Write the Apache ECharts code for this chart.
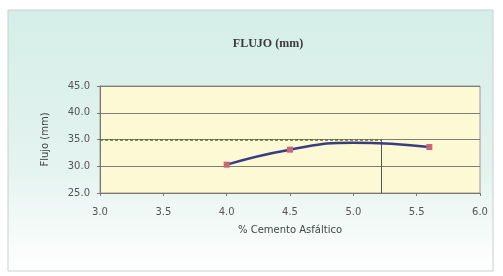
<!DOCTYPE html>
<html>
<head>
<meta charset="utf-8">
<script src="https://cdn.jsdelivr.net/npm/echarts@6/dist/echarts.min.js"></script>
<style>
html, body { margin: 0; padding: 0; background: #fff; }
#chart { width: 503px; height: 276px; }
</style>
</head>
<body>
<div id="chart"></div>
<script>
// % cemento asfáltico vs flujo (mm)
const cemento = [4.0, 4.5, 5.0, 5.6]
const flujo = [30.3, 33.1, 34.4, 33.6]
// puntos con marcador visible en la gráfica original
const conMarcador = [true, true, false, true]
// valor de referencia y % óptimo
const flujoRef = 35.0
const cementoOpt = 5.22

const myChart = echarts.init(document.getElementById('chart'))

const axisText = { fontFamily: 'DejaVu Sans', fontSize: 10, color: '#555' }

const option = {
  animation: false,
  backgroundColor: '#fff',
  graphic: [
    {
      type: 'rect',
      z: -10,
      shape: { x: 8, y: 10, width: 485, height: 261 },
      style: {
        fill: new echarts.graphic.LinearGradient(0, 0, 0, 1, [
          { offset: 0, color: '#d5eee8' },
          { offset: 0.6, color: '#e4f3ef' },
          { offset: 1, color: '#ffffff' }
        ]),
        stroke: '#c8d0cc',
        lineWidth: 1
      }
    }
  ],
  title: {
    text: 'FLUJO (mm)',
    left: 263,
    top: 33,
    textAlign: 'center',
    textStyle: { fontFamily: 'Liberation Serif', fontSize: 12, fontWeight: 'bold', color: '#3a3a3a' }
  },
  grid: {
    left: 100,
    right: 23,
    top: 86,
    bottom: 83,
    show: true,
    backgroundColor: '#fcf9d4',
    borderColor: '#9a9a90',
    borderWidth: 1
  },
  xAxis: {
    type: 'value',
    min: 3,
    max: 6,
    interval: 0.5,
    name: '% Cemento Asfáltico',
    nameLocation: 'middle',
    nameGap: 32,
    nameTextStyle: { fontFamily: 'DejaVu Sans', fontSize: 10, color: '#444' },
    axisLine: { lineStyle: { color: '#777' } },
    axisTick: { show: true, length: 3, lineStyle: { color: '#777' } },
    axisLabel: Object.assign({ margin: 14, formatter: v => v.toFixed(1) }, axisText),
    splitLine: { show: false }
  },
  yAxis: {
    type: 'value',
    min: 25,
    max: 45,
    interval: 5,
    name: 'Flujo (mm)',
    nameLocation: 'middle',
    nameGap: 50,
    nameTextStyle: { fontFamily: 'DejaVu Sans', fontSize: 10, color: '#444' },
    axisLine: { show: true, lineStyle: { color: '#777' } },
    axisTick: { show: true, length: 3, lineStyle: { color: '#777' } },
    axisLabel: Object.assign({ margin: 10, formatter: v => v.toFixed(1) }, axisText),
    splitLine: { show: true, lineStyle: { color: '#7e7e74', width: 1 } }
  },
  series: [
    {
      name: 'Flujo',
      type: 'line',
      smooth: true,
      data: cemento.map((c, i) => ({
        value: [c, flujo[i]],
        symbol: conMarcador[i] ? 'rect' : 'none'
      })),
      symbolSize: 6,
      itemStyle: { color: '#c8667a' },
      lineStyle: { color: '#3a3c84', width: 2.5 },
      z: 5
    },
    {
      name: 'ref',
      type: 'line',
      data: [],
      markLine: {
        silent: true,
        symbol: 'none',
        label: { show: false },
        data: [
          [
            { coord: [3, flujoRef], lineStyle: { color: '#5e6e28', type: [3, 2], width: 1.5 } },
            { coord: [cementoOpt, flujoRef] }
          ],
          [
            { coord: [cementoOpt, flujoRef], lineStyle: { color: '#555', type: 'solid', width: 1 } },
            { coord: [cementoOpt, 25] }
          ]
        ]
      }
    }
  ]
}

myChart.setOption(option)
</script>
</body>
</html>
